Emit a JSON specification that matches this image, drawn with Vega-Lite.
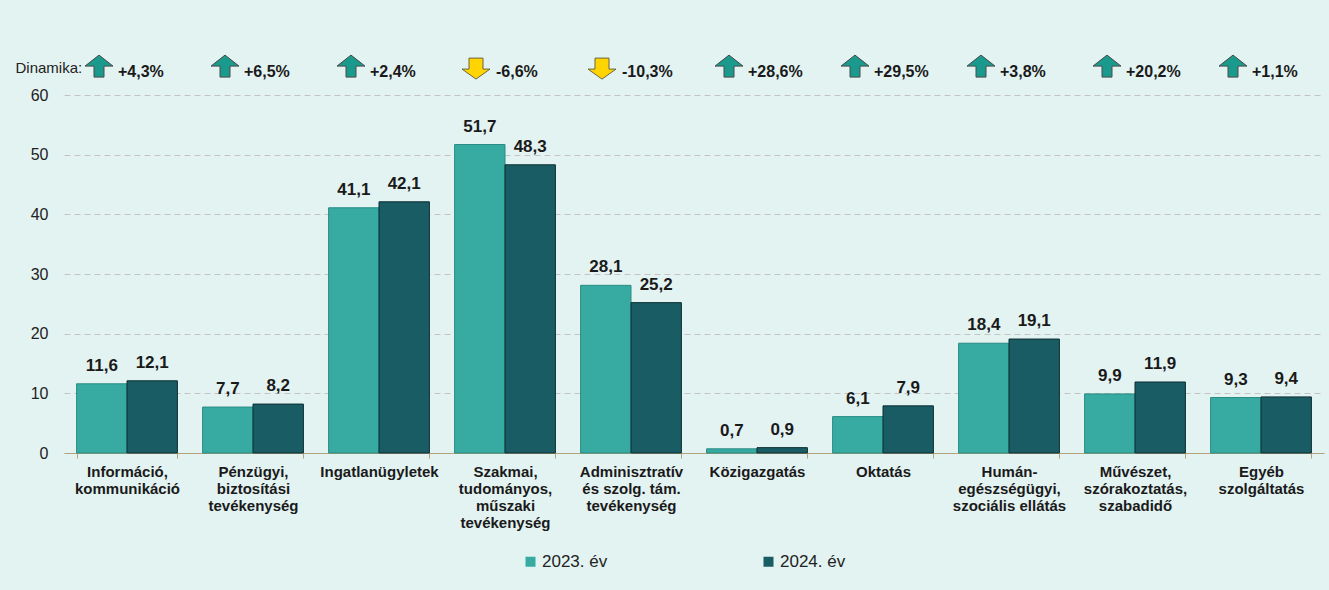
{
  "$schema": "https://vega.github.io/schema/vega-lite/v6.json",
  "width": 1260,
  "height": 358,
  "autosize": {"type": "none"},
  "padding": {"left": 64, "top": 95, "right": 5, "bottom": 137},
  "background": "#e3f3f2",
  "config": {
    "font": "Liberation Sans",
    "view": {"stroke": null},
    "locale": {"number": {"decimal": ",", "thousands": " ", "grouping": [3], "currency": ["", " Ft"]}}
  },
  "datasets": {
    "bars": [
      {"cat": "Információ,|kommunikáció", "year": "2023. év", "value": 11.6},
      {"cat": "Információ,|kommunikáció", "year": "2024. év", "value": 12.1},
      {"cat": "Pénzügyi,|biztosítási|tevékenység", "year": "2023. év", "value": 7.7},
      {"cat": "Pénzügyi,|biztosítási|tevékenység", "year": "2024. év", "value": 8.2},
      {"cat": "Ingatlanügyletek", "year": "2023. év", "value": 41.1},
      {"cat": "Ingatlanügyletek", "year": "2024. év", "value": 42.1},
      {"cat": "Szakmai,|tudományos,|műszaki|tevékenység", "year": "2023. év", "value": 51.7},
      {"cat": "Szakmai,|tudományos,|műszaki|tevékenység", "year": "2024. év", "value": 48.3},
      {"cat": "Adminisztratív|és szolg. tám.|tevékenység", "year": "2023. év", "value": 28.1},
      {"cat": "Adminisztratív|és szolg. tám.|tevékenység", "year": "2024. év", "value": 25.2},
      {"cat": "Közigazgatás", "year": "2023. év", "value": 0.7},
      {"cat": "Közigazgatás", "year": "2024. év", "value": 0.9},
      {"cat": "Oktatás", "year": "2023. év", "value": 6.1},
      {"cat": "Oktatás", "year": "2024. év", "value": 7.9},
      {"cat": "Humán-|egészségügyi,|szociális ellátás", "year": "2023. év", "value": 18.4},
      {"cat": "Humán-|egészségügyi,|szociális ellátás", "year": "2024. év", "value": 19.1},
      {"cat": "Művészet,|szórakoztatás,|szabadidő", "year": "2023. év", "value": 9.9},
      {"cat": "Művészet,|szórakoztatás,|szabadidő", "year": "2024. év", "value": 11.9},
      {"cat": "Egyéb|szolgáltatás", "year": "2023. év", "value": 9.3},
      {"cat": "Egyéb|szolgáltatás", "year": "2024. év", "value": 9.4}
    ],
    "dyn": [
      {"cat": "Információ,|kommunikáció", "dyn": "+4,3%", "dir": "up"},
      {"cat": "Pénzügyi,|biztosítási|tevékenység", "dyn": "+6,5%", "dir": "up"},
      {"cat": "Ingatlanügyletek", "dyn": "+2,4%", "dir": "up"},
      {"cat": "Szakmai,|tudományos,|műszaki|tevékenység", "dyn": "-6,6%", "dir": "down"},
      {"cat": "Adminisztratív|és szolg. tám.|tevékenység", "dyn": "-10,3%", "dir": "down"},
      {"cat": "Közigazgatás", "dyn": "+28,6%", "dir": "up"},
      {"cat": "Oktatás", "dyn": "+29,5%", "dir": "up"},
      {"cat": "Humán-|egészségügyi,|szociális ellátás", "dyn": "+3,8%", "dir": "up"},
      {"cat": "Művészet,|szórakoztatás,|szabadidő", "dyn": "+20,2%", "dir": "up"},
      {"cat": "Egyéb|szolgáltatás", "dyn": "+1,1%", "dir": "up"}
    ]
  },
  "encoding": {
    "x": {
      "field": "cat",
      "type": "nominal",
      "sort": null,
      "scale": {"paddingInner": 0.2, "paddingOuter": 0.1},
      "axis": {
        "title": null,
        "labelAngle": 0,
        "labelExpr": "split(datum.label, '|')",
        "labelFontSize": 15,
        "labelFontWeight": "bold",
        "labelColor": "#1a1a1a",
        "labelLineHeight": 17,
        "labelBaseline": "top",
        "labelPadding": 6,
        "labelLimit": 0,
        "labelOverlap": false,
        "labelBound": false,
        "tickSize": 5,
        "tickColor": "#b3a27c",
        "domainColor": "#b3a27c",
        "tickBand": "extent"
      }
    }
  },
  "layer": [
    {
      "data": {"name": "bars"},
      "mark": {"type": "bar", "strokeWidth": 1},
      "encoding": {
        "xOffset": {"field": "year", "type": "nominal", "scale": {"paddingInner": 0}},
        "y": {
          "field": "value",
          "type": "quantitative",
          "scale": {"domain": [0, 60], "nice": false},
          "axis": {
            "title": "Dinamika:",
            "titleAngle": 0,
            "titleX": -49,
            "titleY": -23,
            "titleAlign": "left",
            "titleBaseline": "alphabetic",
            "titleFontSize": 15,
            "titleFontWeight": "normal",
            "titleColor": "#222222",
            "values": [0, 10, 20, 30, 40, 50, 60],
            "ticks": false,
            "domain": false,
            "labelPadding": 16,
            "labelFontSize": 16,
            "labelColor": "#222222",
            "gridColor": "#c4c4c4",
            "gridDash": [6, 4]
          }
        },
        "fill": {
          "field": "year",
          "type": "nominal",
          "scale": {"range": ["#37aaa2", "#1a5c64"]},
          "legend": {
            "title": null,
            "orient": "none",
            "legendX": 458,
            "legendY": 458,
            "direction": "horizontal",
            "symbolType": "square",
            "symbolSize": 100,
            "symbolStrokeWidth": 0,
            "labelFontSize": 17,
            "labelColor": "#222222",
            "labelOffset": 3,
            "columnPadding": 152
          }
        },
        "stroke": {
          "field": "year",
          "type": "nominal",
          "scale": {"range": ["#2a8c84", "#0b2e33"]},
          "legend": null
        }
      }
    },
    {
      "data": {"name": "bars"},
      "mark": {"type": "text", "fontWeight": "bold", "fontSize": 17, "baseline": "alphabetic", "dy": -13, "color": "#1a1a1a"},
      "encoding": {
        "xOffset": {"field": "year", "type": "nominal"},
        "y": {"field": "value", "type": "quantitative"},
        "text": {"field": "value", "type": "quantitative", "format": ".1f"}
      }
    },
    {
      "data": {"name": "dyn"},
      "transform": [{"filter": "datum.dir === 'up'"}],
      "mark": {
        "type": "point",
        "filled": true,
        "clip": false,
        "size": 400,
        "shape": "M -2.8 -2.2 L -1.4 -1.1 L -2.3 -1.1 L -2.3 0 L -3.3 0 L -3.3 -1.1 L -4.2 -1.1 Z",
        "fill": "#1a9a8c",
        "stroke": "#4a4a4a",
        "strokeWidth": 1,
        "opacity": 1
      },
      "encoding": {"y": {"datum": 63}}
    },
    {
      "data": {"name": "dyn"},
      "transform": [{"filter": "datum.dir === 'down'"}],
      "mark": {
        "type": "point",
        "filled": true,
        "clip": false,
        "size": 400,
        "shape": "M -3.6 -1.9 L -2.2 -1.9 L -2.2 -0.8 L -1.5 -0.8 L -2.9 0.2 L -4.3 -0.8 L -3.6 -0.8 Z",
        "fill": "#ffd400",
        "stroke": "#6b6540",
        "strokeWidth": 1,
        "opacity": 1
      },
      "encoding": {"y": {"datum": 63}}
    },
    {
      "data": {"name": "dyn"},
      "mark": {"type": "text", "align": "left", "dx": -9, "fontWeight": "bold", "fontSize": 16, "baseline": "alphabetic", "color": "#1a1a1a", "clip": false},
      "encoding": {
        "y": {"datum": 63},
        "text": {"field": "dyn"}
      }
    }
  ]
}
